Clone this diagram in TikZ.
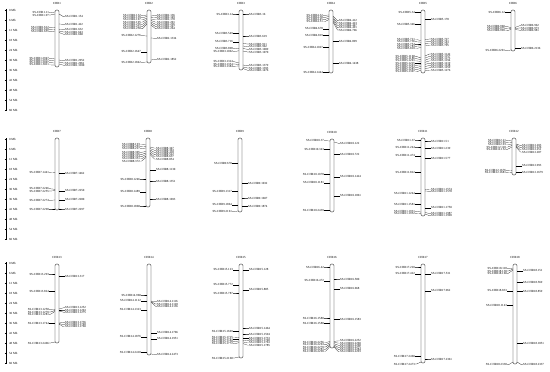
\documentclass[tikz,border=0pt]{standalone}
\usepackage{fontspec}
\setmainfont{Liberation Serif}
\usepackage{tikz}
\usetikzlibrary{calc}
\begin{document}
\begin{tikzpicture}[x=0.05cm,y=-0.05cm,
  every node/.style={font=\fontsize{4.4}{5}\selectfont,inner sep=0pt},
  chr/.style={draw,line width=.35pt,rounded corners=2},
  mk/.style={line width=.25pt},
  ruler/.style={line width=.8pt}]
\useasboundingbox (0,0) rectangle (550,372);
% Mb rulers, one per row
\foreach \r/\y in {1/10,2/139,3/263}{
  \draw[ruler] (6,\y-1) -- (6,\y+101);
  \foreach \k [evaluate=\k as \mb using int(6*\k)] in {0,...,10}{
    \draw[line width=.4pt] (4.8,\y+\k*10) -- (7.2,\y+\k*10);
    \node[anchor=west] (mb\r-\k) at (9,\y+\k*10) {\mb\ Mb};
  }
}
% chromosomes
\foreach \c/\x/\t/\b in {1/57/10/67,2/149/10/63,3/241/10/70,4/331/10/73,5/423/10/73,6/513/10/51,
  7/57/138/210,8/148/138/207,9/240/138/212,10/332/139/212,11/423/138/216,12/514/138/175,
  13/57/264/343,14/149/264/355,15/241/264/358,16/332/264/348,17/423/264/363,18/515/264/364}{
  \node (t\c) at (\x,\t-7) {CHR\c};
  \draw[chr] (\x-2,\t) rectangle (\x+2,\b);
}
% markers, left side
\foreach \c/\x/\a/\l/\n [count=\i] in {
  1/57/12/12.7/11,1/57/14/15/97,1/57/27.5/27.2/612,1/57/29.3/29.5/620,1/57/31/31.8/655,
  1/57/59/58.3/2947,1/57/61/60.5/2957,1/57/63/62.7/3007,1/57/65/64.9/3011,
  2/149/15/15.5/132,2/149/16.5/17.7/139,2/149/18/19.9/167,2/149/19.5/22.1/195,2/149/21/24.3/216,2/149/22.5/26.5/231,2/149/24/28.7/258,
  2/149/36/35.7/1276,2/149/51.7/51.7/1647,2/149/62/62.3/1842,
  3/241/14/14/14,3/241/33.3/33.3/549,3/241/41.7/41.7/716,3/241/48.2/48.7/898,3/241/50.8/51.5/1062,
  3/241/63/61.8/1324,3/241/64.5/64/1354,3/241/66/66.2/1384,
  4/331/15/15.3/32,4/331/16.5/17.5/38,4/331/18/19.7/45,4/331/19.5/21.9/51,4/331/28.7/28.7/678,
  4/331/35.3/35.3/819,4/331/47.3/47.3/1027,4/331/72.3/72.3/1444,
  5/423/12.3/12.3/34,5/423/24.3/24.3/346,5/423/40.5/39.6/721,5/423/42.2/41.8/736,5/423/44/44/754,5/423/45.8/46.2/783,5/423/47.5/48.4/810,
  5/423/58/56.5/1168,5/423/59.7/58.7/1186,5/423/61.4/60.9/1201,5/423/63.1/63.1/1225,5/423/64.8/65.3/1243,5/423/66.5/67.5/1262,5/423/68.2/69.7/1281,5/423/70/71.9/1307,
  6/513/12.3/12.3/12,6/513/27.5/26.5/960,6/513/28.5/28.7/975,6/513/29.5/30.9/990,6/513/50/50.7/2201,
  7/57/172.5/172.7/1441,7/57/189.3/188.8/2246,7/57/190.7/191/2255,7/57/200/200.3/2274,7/57/209/209/2290,
  8/148/145/144.1/193,8/148/146.5/146.3/201,8/148/148/148.5/227,8/148/151.5/152.3/305,8/148/153/154.5/316,8/148/154.5/156.7/334,8/148/156/158.9/351,8/148/157.5/161.1/372,
  8/148/179/179/1246,8/148/191.7/191.7/1489,8/148/206/206/1868,
  9/240/163.3/163.3/678,9/240/191.3/191.3/1317,9/240/204.7/204.7/1864,9/240/211/211.7/2161,
  10/332/141/140.7/37,10/332/149.3/149.3/343,10/332/174.3/174.3/1078,10/332/182.7/182.7/1181,10/332/210.3/210.3/2439,
  11/423/140/140/37,11/423/147/147/244,11/423/155.7/155.7/474,11/423/172.3/172.3/822,11/423/193.3/193.3/1244,
  11/423/204.3/204.3/1581,11/423/212/211.5/1931,11/423/213.5/213.7/1952,
  12/514/141/140.5/21,12/514/142.5/142.7/65,12/514/144/144.9/93,12/514/145.5/147.1/118,12/514/147/149.3/152,
  12/514/170.7/170.5/1676,12/514/172.5/172.7/1681,
  13/57/274/274/293,13/57/291.3/291.3/824,13/57/309.5/309.8/1258,13/57/310.5/312/1270,13/57/311.5/314.2/1281,
  13/57/323.3/323.3/1744,13/57/342/343/2466,
  14/149/295/295/968,14/149/300.7/300.7/1122,14/149/309.7/309.7/1323,14/149/336.7/336.7/1876,14/149/352.3/352.3/2418,
  15/241/269.7/269.7/123,15/241/284.7/284.7/772,15/241/293/293/787,15/241/331.3/331.3/1669,
  15/241/337.5/337.1/1725,15/241/339.3/339.3/1741,15/241/341/341.5/1758,15/241/342.7/343.7/1772,15/241/357/358/2168,
  16/332/267/267/42,16/332/280.7/280.7/472,16/332/318/318/1580,16/332/323.3/323.3/1588,
  16/332/341.5/342.6/2256,16/332/342.7/344.8/2263,16/332/344/347/2270,16/332/345.3/349.2/2281,16/332/346.5/351.4/2290,
  17/423/267/267/220,17/423/273.7/273.7/422,17/423/356.3/356.3/2460,17/423/362/364/2473,
  18/515/268/268.8/118,18/515/269/271/138,18/515/270/273.2/160,18/515/290.7/290.7/833,18/515/305.3/305.3/1143,18/515/362/364.7/2338}{
  \coordinate (al\i) at (\x-2,\a);
  \node[anchor=east] (ml\i) at (\x-8,\l) {SS-CHR\c.\n};
  \draw[mk] (ml\i.east) -- ++(1.5,0) -- (al\i);
}
% markers, right side
\foreach \c/\x/\a/\l/\n [count=\i] in {
  1/57/14/16.7/154,1/57/24/24.3/422,1/57/29.5/29.8/632,1/57/31/32/643,1/57/32.5/34.2/668,
  1/57/60/60.8/2952,1/57/62/63/2961,1/57/64/65.2/3100,
  2/149/16/15.5/136,2/149/17.5/17.7/149,2/149/19/19.9/178,2/149/20.5/22.1/201,2/149/22/24.3/226,2/149/23.5/26.5/247,2/149/25/28.7/264,
  2/149/38/38.3/1334,2/149/60/59.3/1852,
  3/241/14/14/16,3/241/36/36/619,3/241/43.5/44/911,3/241/46/46.7/962,3/241/48.5/49.3/1009,3/241/51/52/1070,
  3/241/65/65.8/1379,3/241/67/68/1393,3/241/68.5/70.2/1476,
  4/331/16/20.7/412,4/331/17.5/23/423,4/331/19/25.3/447,4/331/20.5/27.7/491,4/331/22/30/766,
  4/331/41.3/41.3/899,4/331/63.3/63.3/1438,
  5/423/19.3/19.3/178,5/423/39.6/39/727,5/423/41.4/41.2/741,5/423/43.2/43.4/767,5/423/45/45.6/795,
  5/423/56/54/1142,5/423/58.1/56.3/1157,5/423/60.2/58.6/1173,5/423/62.3/60.9/1194,5/423/64.4/63.2/1219,5/423/66.5/65.5/1238,5/423/68.6/67.8/1259,5/423/70.7/70.1/1276,
  6/513/27.5/25.8/962,6/513/28.5/28/973,6/513/29.5/30.2/981,6/513/48.3/48.3/2136,
  7/57/173.3/173.3/1462,7/57/190.7/190.7/2250,7/57/199.7/199.7/2280,7/57/209/209/2297,
  8/148/147/148.1/347,8/148/148.5/150.3/363,8/148/150/152.5/418,8/148/151.5/154.7/522,8/148/153/156.9/637,8/148/154.5/159.1/854,
  8/148/169.7/169.7/1130,8/148/181/181/1351,8/148/199/199/1693,
  9/240/183.3/183.3/1032,9/240/198/198/1607,9/240/206.3/206.3/1874,
  10/332/142/143.3/122,10/332/154.3/154.3/722,10/332/176.7/176.7/1424,10/332/195.7/195.7/1861,
  11/423/141/141/51,11/423/148.3/148.3/239,11/423/158.3/158.3/577,11/423/189.5/189.1/1574,11/423/191/191.3/1578,
  11/423/207.7/207.7/1750,11/423/212.5/213.5/1987,11/423/214/215.7/1990,
  12/514/144/145.5/203,12/514/145/147.7/226,12/514/146/149.9/251,12/514/147/152.1/287,12/514/165.7/165.7/993,12/514/172.3/172.3/1679,
  13/57/276.3/276.3/317,13/57/309/307.8/1252,13/57/310/310/1263,13/57/311/312.2/1275,
  13/57/323/322.5/1736,13/57/323.5/324.7/1748,13/57/324/326.9/1760,
  14/149/301/301.8/1116,14/149/301.5/304/1128,14/149/302/306.2/1136,14/149/332.7/332.7/1766,14/149/338.7/338.7/1951,14/149/354/354.7/2473,
  15/241/269.7/269.7/128,15/241/289.7/289.7/885,15/241/328/328/1464,15/241/334/334/1594,
  15/241/338.5/338.5/1733,15/241/340.2/340.7/1748,15/241/341.9/342.9/1763,15/241/343.6/345.1/1785,
  16/332/279/279/580,16/332/288.7/288.7/668,16/332/319.3/319.3/1583,
  16/332/341.3/340.9/2252,16/332/342.5/343.1/2260,16/332/343.7/345.3/2268,16/332/344.9/347.5/2275,16/332/346/349.7/2284,16/332/347/351.9/2293,
  17/423/273.7/273.7/531,17/423/290.7/290.7/962,17/423/359/359/2361,
  18/515/270.7/270.7/151,18/515/282.3/282.3/569,18/515/291.3/291.3/859,18/515/343.3/343.3/1851,18/515/362/364.7/2337}{
  \coordinate (ar\i) at (\x+2,\a);
  \node[anchor=west] (mr\i) at (\x+8,\l) {SS-CHR\c.\n};
  \draw[mk] (mr\i.west) -- ++(-1.5,0) -- (ar\i);
}
\end{tikzpicture}
\end{document}
